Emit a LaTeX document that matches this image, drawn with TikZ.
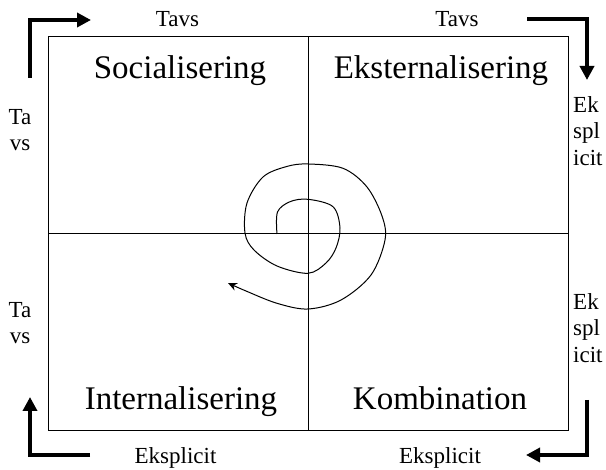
\documentclass[tikz,border=0pt]{standalone}
\usepackage{fontspec}
\setmainfont{Liberation Serif}
\usetikzlibrary{arrows.meta}
\newcommand{\lbl}{\fontsize{23}{26.5}\selectfont}
\newcommand{\ttl}{\fontsize{33}{40}\selectfont}

\begin{document}
\begin{tikzpicture}[x=1pt,y=-1pt,
    turn/.style={line width=3.5pt,-{Triangle[length=14pt,width=14pt]}},
    side/.style={font=\lbl,inner sep=0pt},
    quad/.style={font=\ttl,inner sep=0pt,anchor=base}]
    \useasboundingbox (0,0) rectangle (606,470);
    %quadrants
    \draw [line width=1pt] (48,37) rectangle (568,431);
    \draw [line width=1pt] (308,37) -- (308,431);
    \draw [line width=1pt] (48,234) -- (568,234);
    \node [quad] (soc) at (180,79) {Socialisering};
    \node [quad] (eks) at (441,79) {Eksternalisering};
    \node [quad] (int) at (181,410) {Internalisering};
    \node [quad] (kom) at (440,410) {Kombination};

    %spiral
    \coordinate (s0) at (277,234);
    \draw [line width=1pt,-{Stealth[length=9pt,width=8pt]}] plot [smooth,tension=0.55] coordinates {
      (s0) (277.5,212) (290,201.7) (308,199.3) (333,206.7) (340,228)
      (336,248) (326,263) (308,273.3) (277,266) (254,250) (245,233)
      (247,203) (263,177) (286.7,166.5) (308,164) (343,168.3) (367,187)
      (382,216) (385,240) (371,275) (341,300) (308,309) (277,303.3)
      (246,291) (228,283)};

    %corner arrows
    \coordinate (tl) at (30,20);
    \coordinate (tr) at (587,19);
    \coordinate (bl) at (30,455);
    \coordinate (br) at (587,455);
    \draw [turn] (30,78) -- (tl) -- (91,20);
    \draw [turn] (527,19) -- (tr) -- (587,80);
    \draw [turn] (90,455) -- (bl) -- (30,397);
    \draw [turn] (587,400) -- (br) -- (526,455);

    %labels
    \node [side,anchor=base] (t1) at (177.5,27) {Tavs};
    \node [side,anchor=base] (t2) at (457,27) {Tavs};
    \node [side,anchor=base] (e1) at (175.5,464) {Eksplicit};
    \node [side,anchor=base] (e2) at (440,464) {Eksplicit};
    \node [side,anchor=north,align=center] (l1) at (20,109) {Ta\\vs};
    \node [side,anchor=north,align=center] (l2) at (20,302) {Ta\\vs};
    \node [side,anchor=north west,align=left] (r1) at (573,96) {Ek\\spl\\icit};
    \node [side,anchor=north west,align=left] (r2) at (573,293) {Ek\\spl\\icit};
\end{tikzpicture}
\end{document}
